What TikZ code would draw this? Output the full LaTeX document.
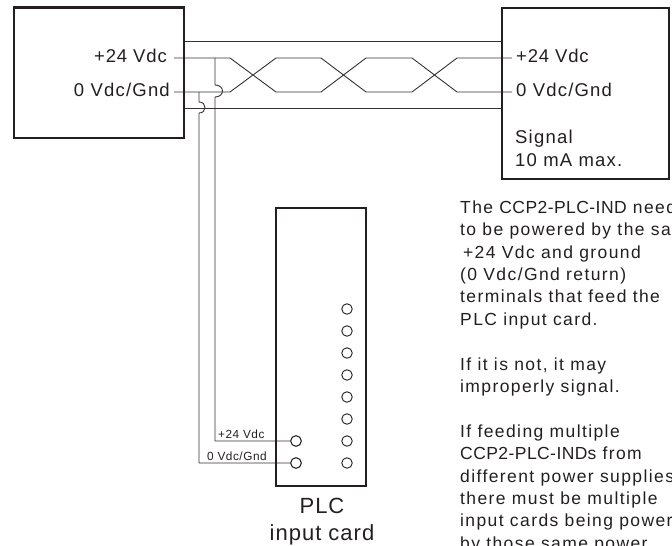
\documentclass[tikz,border=0pt]{standalone}
\usepackage{fontspec}
\setmainfont[LetterSpace=4.5]{Liberation Sans}
\definecolor{ink}{HTML}{231F20}
\newcommand{\tightcaps}[1]{{\addfontfeature{LetterSpace=2.5}#1}}
\tikzset{
  x=1pt,y=-1pt,
  boxheavy/.style={draw=ink,line width=2.2pt},
  wire/.style={draw=ink!92,line width=0.9pt,line join=round},
  term/.style={circle,draw=ink,line width=0.9pt,fill=white,minimum size=10.5pt,inner sep=0pt},
  big/.style={inner sep=0pt,text=ink,font=\fontsize{18.5}{22}\selectfont\addfontfeature{LetterSpace=6.5}},
  bigplus/.style={inner sep=0pt,text=ink,font=\fontsize{18.5}{22}\selectfont},
  huge/.style={inner sep=0pt,text=ink,font=\fontsize{22}{26}\selectfont},
  note/.style={inner sep=0pt,text=ink,font=\fontsize{17.5}{22.4}\selectfont\addfontfeature{LetterSpace=8},align=left,anchor=north west},
  tiny/.style={inner sep=0pt,text=ink,font=\fontsize{11.8}{14}\selectfont},
}
\begin{document}
\begin{tikzpicture}
\useasboundingbox (0,0) rectangle (672,546);
\clip (0,0) rectangle (672,546);
\coordinate (LA) at (184,41);
\coordinate (LB) at (184,108);
\coordinate (RA) at (502,41);
\coordinate (RB) at (502,108);
\coordinate (P1) at (174,58);
\coordinate (G1) at (174,92);
\coordinate (P2) at (512,58);
\coordinate (G2) at (512,92);
\draw[wire] (LA) -- (RA);
\draw[wire] (LB) -- (RB);
\draw[wire] (P1) -- (230,58) -- (276,92) -- (321,92) -- (366,58) -- (412,58) -- (457,92) -- (G2);
\draw[wire] (G1) -- (230,92) -- (276,58) -- (321,58) -- (366,92) -- (412,92) -- (457,58) -- (P2);
\node[term] (TP) at (296,441) {};
\node[term] (TG) at (296,463) {};
\draw[wire] (215,58) -- (215,85) .. controls (220,85) and (222.5,88) .. (222.5,91) .. controls (222.5,94) and (220,97) .. (215,97) -- (215,441) -- (TP.west);
\draw[wire] (199,92) -- (199,102) .. controls (203,102) and (205,104.5) .. (205,107.5) .. controls (205,110.5) and (203,113) .. (199,113) -- (199,463) -- (TG.west);
\draw[boxheavy] (14,7.5) rectangle (184,138);
\draw[boxheavy] (502,8) rectangle (669,179);
\draw[boxheavy] (276,208) rectangle (366,486);
\node[term] (TP) at (296,441) {};
\node[term] (TG) at (296,463) {};
\foreach \n/\y in {a/309,b/331,c/353,d/375,e/397,f/419,g/441,h/463}
  \node[term] (c\n) at (347,\y) {};
\node[bigplus,anchor=base east] (l1) at (167,62) {+24 Vdc};
\node[big,anchor=base east] (l2) at (170,96) {0 Vdc/Gnd};
\node[bigplus,anchor=base west] (r1) at (516,62) {+24 Vdc};
\node[big,anchor=base west] (r2) at (516,96) {0 Vdc/Gnd};
\node[big,anchor=base west] (r3) at (515,143) {Signal};
\node[big,anchor=base west] (r4) at (515,166) {10 mA max.};
\node[tiny,anchor=base west] (t1) at (218,438) {+24 Vdc};
\node[tiny,anchor=base west] (t2) at (207,460) {0 Vdc/Gnd};
\node[huge,anchor=base] (plc1) at (322,513) {PLC};
\node[huge,anchor=base] (plc2) at (322,540) {input card};
\node[note] (n) at (460,200.5) {The \tightcaps{CCP2-PLC-IND} needs\\to be powered by the same\\ \,+24 Vdc and ground\\(0 Vdc/Gnd return)\\terminals that feed the\\PLC input card.\\[22.4pt]If it is not, it may\\improperly signal.\\[22.4pt]If feeding multiple\\\tightcaps{CCP2-PLC-IND}s from\\different power supplies,\\there must be multiple\\input cards being powered\\by those same power};
\end{tikzpicture}
\end{document}
